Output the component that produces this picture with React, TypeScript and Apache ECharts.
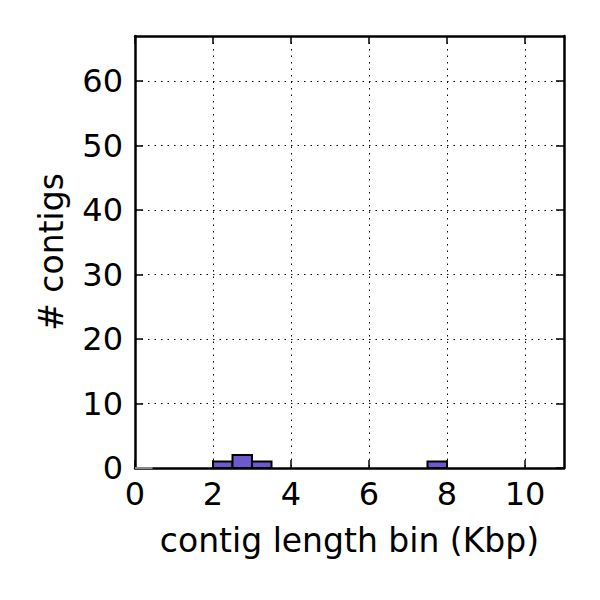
import React, { useEffect, useRef } from "react";
import * as echarts from "echarts";

const binStarts = [2, 2.5, 3, 7.5];
const binCounts = [1, 2, 1, 1];
const binWidth = 0.5;
const xTicks = [0, 2, 4, 6, 8, 10];
const yTicks = [0, 10, 20, 30, 40, 50, 60];

export default function App() {
  const ref = useRef<HTMLDivElement>(null);
  useEffect(() => {
    if (!ref.current) return;
    const chart = echarts.init(ref.current, null, { renderer: "svg" });
    const font = "DejaVu Sans";
    const line = { show: true, onZero: false, lineStyle: { color: "#000", width: 2.5 } };
    const tick = (vals: number[]) => ({
      show: true, inside: true, length: 8, customValues: vals,
      lineStyle: { color: "#000", width: 1.5 },
    });
    const grid = { show: true, lineStyle: { color: "#000", type: [1.5, 5], width: 1 } };
    chart.setOption({
      animation: false,
      backgroundColor: "#fff",
      grid: { left: 135, right: 36, top: 36, bottom: 132, containLabel: false },
      xAxis: [
        {
          type: "value", min: 0, max: 11, interval: 2, position: "bottom",
          axisLine: line, axisTick: tick(xTicks),
          axisLabel: { color: "#000", fontSize: 32, fontFamily: font, margin: 10, customValues: xTicks },
          name: "contig length bin (Kbp)", nameLocation: "middle", nameGap: 56,
          nameTextStyle: { color: "#000", fontSize: 33, fontFamily: font },
          splitLine: grid,
        },
        {
          type: "value", min: 0, max: 11, interval: 2, position: "top",
          axisLine: line, axisTick: tick(xTicks), axisLabel: { show: false }, splitLine: { show: false },
        },
      ],
      yAxis: [
        {
          type: "value", min: 0, max: 67, interval: 10, position: "left",
          axisLine: line, axisTick: tick(yTicks),
          axisLabel: { color: "#000", fontSize: 32, fontFamily: font, margin: 12, customValues: yTicks },
          name: "# contigs", nameLocation: "middle", nameGap: 67,
          nameTextStyle: { color: "#000", fontSize: 33, fontFamily: font },
          splitLine: grid,
        },
        {
          type: "value", min: 0, max: 67, interval: 10, position: "right",
          axisLine: line, axisTick: tick(yTicks), axisLabel: { show: false }, splitLine: { show: false },
        },
      ],
      series: [
        {
          type: "line",
          data: [[0, 0], [0.45, 0]],
          symbol: "none",
          lineStyle: { color: "#888", width: 2 },
          z: 5,
        },
        {
          type: "custom",
          data: binStarts.map((s, i) => [s, binCounts[i]]),
          renderItem: (params: any, api: any) => {
            const x0 = api.value(0);
            const h = api.value(1);
            const p0 = api.coord([x0, 0]);
            const p1 = api.coord([x0 + binWidth, h]);
            return {
              type: "rect",
              shape: { x: p0[0], y: p1[1], width: p1[0] - p0[0], height: p0[1] - p1[1] },
              style: { fill: "#6a5acd", stroke: "#000", lineWidth: 2 },
            };
          },
          z: 3,
        },
      ],
    });
    return () => chart.dispose();
  }, []);
  return <div ref={ref} style={{ width: 600, height: 600, position: "absolute", left: 0, top: 0 }} />;
}
